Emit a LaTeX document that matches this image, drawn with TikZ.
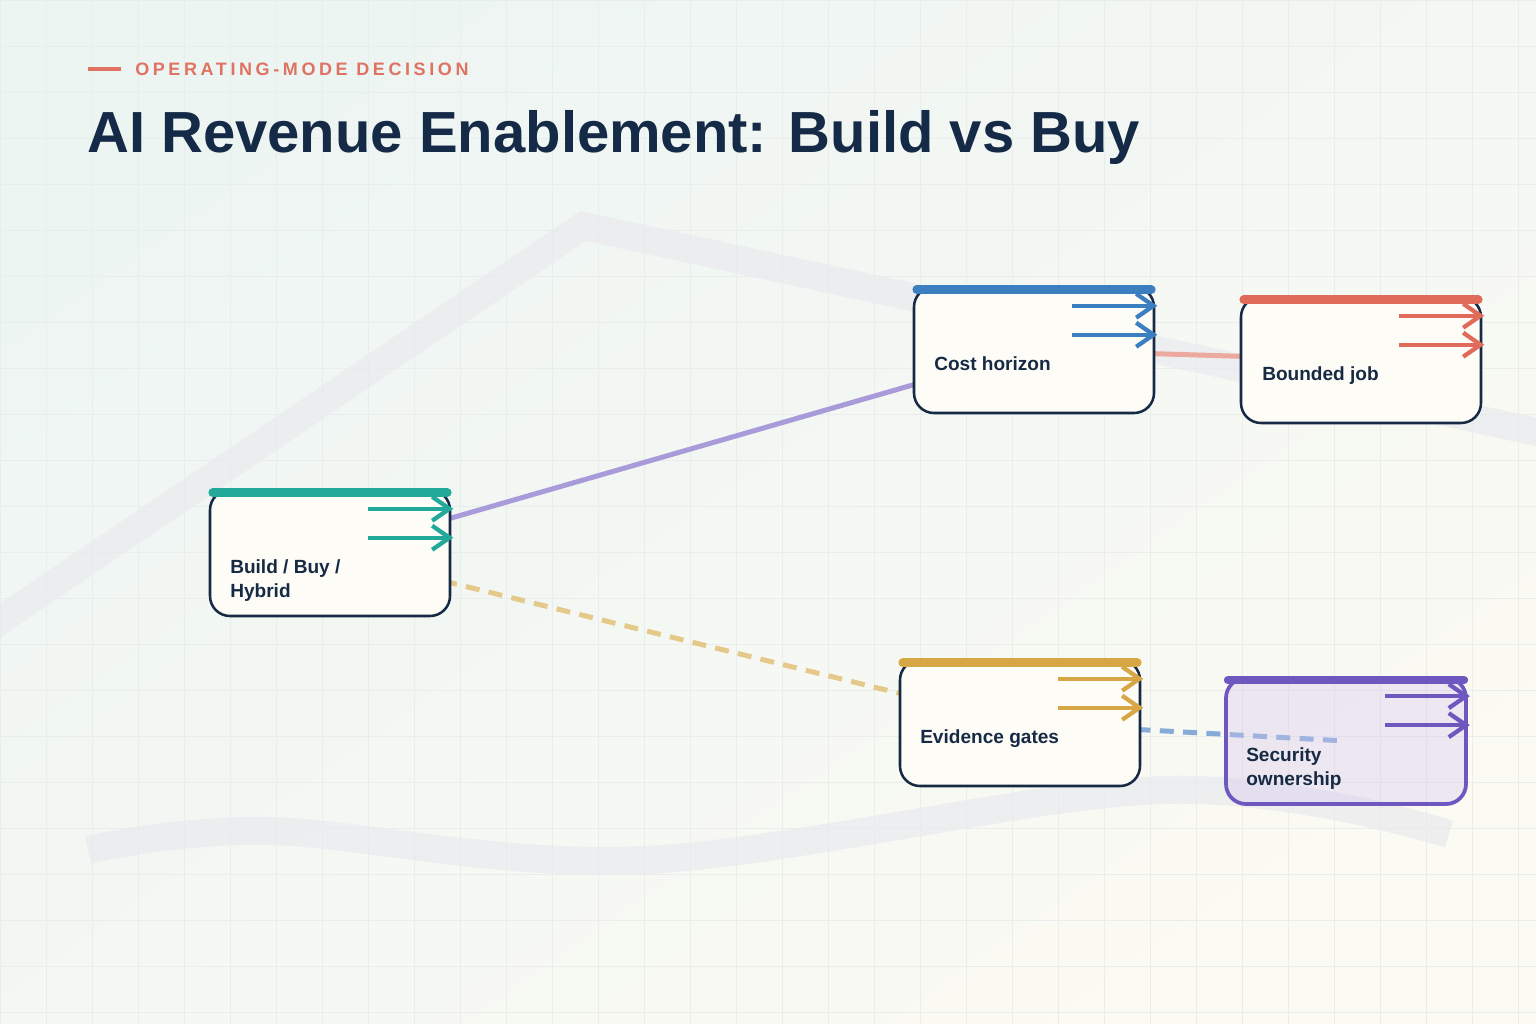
\documentclass[tikz,border=0pt]{standalone}
\usepackage{fontspec}
\setmainfont{Liberation Sans}
\newfontfamily\trackfont[LetterSpace=20]{Liberation Sans}
\usetikzlibrary{arrows.meta, backgrounds}
\definecolor{ink}{HTML}{172A44}
\definecolor{titleink}{HTML}{152A47}
\definecolor{kicker}{HTML}{E07262}
\definecolor{bgA}{HTML}{EDF5F3}
\definecolor{bgB}{HTML}{FBFAF3}
\definecolor{gridc}{HTML}{E8EEEB}
\definecolor{deco}{HTML}{E9EAEE}
\definecolor{cardbg}{HTML}{FDFCF7}
\definecolor{teal}{HTML}{22A99A}
\definecolor{blue}{HTML}{3B7FC0}
\definecolor{coral}{HTML}{E06B5B}
\definecolor{gold}{HTML}{D6A744}
\definecolor{purp}{HTML}{6F57C0}
\definecolor{lav}{HTML}{D4C5EE}
\definecolor{purpline}{HTML}{A99BD9}
\definecolor{salmon}{HTML}{ECA99F}
\definecolor{goldline}{HTML}{E4C98B}
\definecolor{blueline}{HTML}{86ABD9}

\begin{document}
\begin{tikzpicture}[
    x=0.75pt, y=-0.75pt,
    every node/.style={font=\bfseries, text=ink},
    card/.style={draw=ink, line width=1.9pt, rounded corners=15pt,
        fill=cardbg, minimum width=180pt, minimum height=94.5pt,
        inner sep=0pt},
    cardh/.style={card, draw=purp, line width=2.8pt, fill=lav,
        fill opacity=0.35},
    lbl/.style={anchor=base west, align=left, inner sep=0pt,
        font=\fontsize{14.3}{18}\selectfont\bfseries},
    topbar/.style={draw=#1, line width=6.5pt, line cap=round},
    flow/.style={draw=#1, line width=3.2pt,
        -{Straight Barb[length=13pt, width=18pt, line width=3.2pt]}},
    link/.style={draw=#1, line width=3.75pt},
    dlink/.style={draw=#1, line width=3.75pt, dash pattern=on 10.5pt off 7pt},
    band/.style={draw=deco, line width=21pt, opacity=0.7},
]
\useasboundingbox (0,0) rectangle (1536,1024);

% ====== HEADER ======
\draw[kicker, line width=3pt] (88,69) -- (121,69);
\node[anchor=base west, inner sep=0pt, text=kicker,
    font=\trackfont\bfseries\fontsize{13.5}{16}\selectfont] (kick) at (135,76)
    {OPERATING-MODE DECISION};
\node[anchor=base west, inner sep=0pt, text=titleink,
    font=\fontsize{43.5}{50}\selectfont\bfseries] (title) at (87,152)
    {AI Revenue Enablement: Build vs Buy};

% ====== CARDS ======
\node[card] (build)    at (330,553)  {};
\node[card] (cost)     at (1034,350) {};
\node[card] (bounded)  at (1361,360) {};
\node[card] (evidence) at (1020,723) {};
\node[cardh] (security) at (1346,741) {};

% base is the last line of each label
\node[lbl] (build-t)    at (230,597)  {Build / Buy /\\Hybrid};
\node[lbl] (cost-t)     at (934,370)  {Cost horizon};
\node[lbl] (bounded-t)  at (1262,380) {Bounded job};
\node[lbl] (evidence-t) at (920,743)  {Evidence gates};
\node[lbl] (security-t) at (1246,785) {Security\\ownership};

\foreach \n/\c in {build/teal, cost/blue, bounded/coral,
    evidence/gold, security/purp} {
    \draw[topbar=\c] ([shift={(4,4)}]\n.north west)
        -- ([shift={(-4,4)}]\n.north east);
    \draw[flow=\c] ([shift={(-83,20)}]\n.north east)
        -- ([shift={(2,20)}]\n.north east);
    \draw[flow=\c] ([shift={(-83,49)}]\n.north east)
        -- ([shift={(2,49)}]\n.north east);
}

% ====== BACKDROP + LINKS ======
\begin{scope}[on background layer]
    \clip (0,0) rectangle (1536,1024);
    \shade[top color=bgA, bottom color=bgB, shading angle=35]
        (0,0) rectangle (1536,1024);
    \foreach \i in {0,...,33}
        \draw[gridc, line width=0.6pt] (\i*46,0) -- (\i*46,1024);
    \foreach \j in {0,...,22}
        \draw[gridc, line width=0.6pt] (0,\j*46) -- (1536,\j*46);

    \draw[band] (-20,634) -- (583,226) -- (1560,437);
    \draw[band] plot[smooth, tension=0.6] coordinates
        {(88,850) (267,831) (644,860) (1162,790) (1449,834)};

    \draw[link=purpline] (build.center) -- (cost.center);
    \draw[link=salmon] (cost.center) -- (bounded.center);
    \draw[dlink=goldline] (build.center) -- (evidence.center);
    \draw[dlink=blueline] (evidence.center) -- (security.center);
\end{scope}
\end{tikzpicture}
\end{document}
